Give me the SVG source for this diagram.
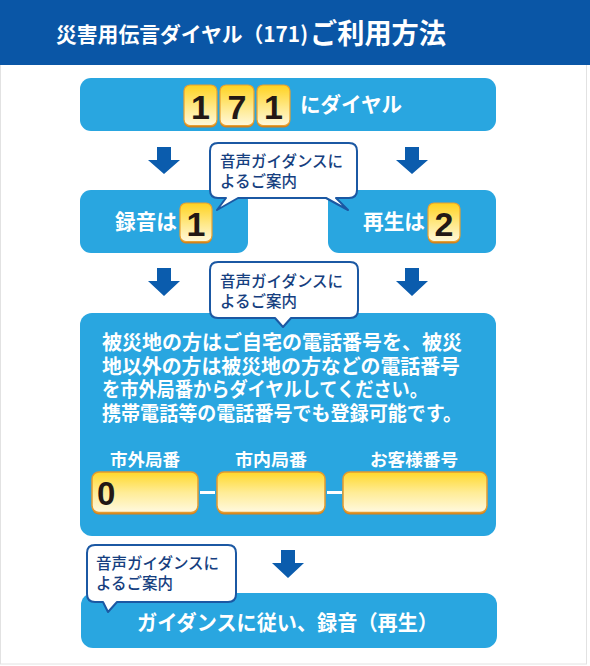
<svg xmlns="http://www.w3.org/2000/svg" width="590" height="666" viewBox="0 0 590 666">
<defs>
<linearGradient id="key" x1="0" y1="0" x2="0" y2="1">
<stop offset="0" stop-color="#FFD21F"/>
<stop offset="0.55" stop-color="#FFE98A"/>
<stop offset="1" stop-color="#FFF8DC"/>
</linearGradient>
<linearGradient id="inp" x1="0" y1="0" x2="0" y2="1">
<stop offset="0" stop-color="#FFD82A"/>
<stop offset="0.5" stop-color="#FFEC95"/>
<stop offset="1" stop-color="#FFF9E0"/>
</linearGradient>
</defs>
<style>
.box{fill:#29A6E0;}
.arrow{fill:#0B5CAD;}
.sh{fill:#D4821C;}
.key{fill:url(#key);stroke:#E8A030;stroke-width:1.2;}
.inp{fill:url(#inp);stroke:#E39A2E;stroke-width:1.5;}
.bub{fill:#FFFFFF;stroke:#1B58A3;stroke-width:2;stroke-linejoin:round;}
.t{font-family:"Noto Sans CJK JP","Noto Sans",sans-serif;}
.w{fill:#FFFFFF;font-weight:700;}
.k{fill:#231815;font-weight:700;font-family:"Liberation Sans","Noto Sans",sans-serif;}
.bt{fill:#163F80;font-size:15.5px;font-weight:500;}
</style>
<rect x="0" y="0" width="590" height="666" fill="#FFFFFF"/>
<rect x="0.5" y="60" width="586" height="604" fill="none" stroke="#E2E2E2" stroke-width="1"/>
<g id="header">
<rect x="0" y="0" width="590" height="65" fill="#0A56A6"/>
<text class="t w" x="56" y="42" font-size="21" textLength="252" lengthAdjust="spacingAndGlyphs">災害用伝言ダイヤル（171)</text>
<text class="t w" x="310" y="44" font-size="28" textLength="136" lengthAdjust="spacingAndGlyphs">ご利用方法</text>
</g>
<g id="connectors">
<polygon class="arrow" points="157,147 171,147 171,160 180,160 164,174 148,160 157,160"/>
<polygon class="arrow" points="405,147 419,147 419,160 428,160 412,174 396,160 405,160"/>
<polygon class="arrow" points="157,268 171,268 171,281 180,281 164,296 148,281 157,281"/>
<polygon class="arrow" points="405,268 419,268 419,281 428,281 412,296 396,281 405,281"/>
<polygon class="arrow" points="281,550 295,550 295,563 304,563 288,578 272,563 281,563"/>
</g>
<g id="step1">
<rect class="box" x="80" y="78" width="416" height="53" rx="11"/>
<rect class="sh" x="184" y="86.5" width="33" height="41" rx="6"/>
<rect class="sh" x="220" y="86.5" width="34" height="41" rx="6"/>
<rect class="sh" x="257" y="86.5" width="33" height="41" rx="6"/>
<rect class="key" x="184" y="85" width="33" height="40.5" rx="6"/>
<rect class="key" x="220" y="85" width="34" height="40.5" rx="6"/>
<rect class="key" x="257" y="85" width="33" height="40.5" rx="6"/>
<text class="k" x="200.5" y="118.5" font-size="34" text-anchor="middle">1</text>
<text class="k" x="237" y="118.5" font-size="34" text-anchor="middle">7</text>
<text class="k" x="273.5" y="118.5" font-size="34" text-anchor="middle">1</text>
<text class="t w" x="300" y="112" font-size="21" font-weight="500" textLength="102" lengthAdjust="spacingAndGlyphs">にダイヤル</text>
</g>
<g id="record">
<rect class="box" x="80" y="190" width="168" height="63" rx="11"/>
<text class="t w" x="115" y="229" font-size="21" textLength="62" lengthAdjust="spacingAndGlyphs">録音は</text>
<rect class="sh" x="180" y="204.5" width="32" height="39" rx="6"/>
<rect class="key" x="180" y="203" width="32" height="38.5" rx="6"/>
<text class="k" x="196" y="235.5" font-size="34" text-anchor="middle">1</text>
</g>
<g id="play">
<rect class="box" x="328" y="190" width="168" height="63" rx="11"/>
<text class="t w" x="363" y="229" font-size="21" textLength="62" lengthAdjust="spacingAndGlyphs">再生は</text>
<rect class="sh" x="428" y="204.5" width="32" height="39" rx="6"/>
<rect class="key" x="428" y="203" width="32" height="38.5" rx="6"/>
<text class="k" x="444" y="235.5" font-size="34" text-anchor="middle">2</text>
</g>
<g id="callout1">
<path class="bub" d="M218,143 H349 Q357,143 357,151 V190 Q357,198 349,198 H336 L348,210 L326,198 H238 L217,210 L226,198 H218 Q210,198 210,190 V151 Q210,143 218,143 Z"/>
<text class="t bt" x="220" y="167">音声ガイダンスに</text>
<text class="t bt" x="220" y="187">よるご案内</text>
</g>
<g id="step3">
<rect class="box" x="80" y="313" width="416" height="223" rx="12"/>
<text class="t w" x="102" y="350" font-size="20" textLength="360" lengthAdjust="spacingAndGlyphs">被災地の方はご自宅の電話番号を、被災</text>
<text class="t w" x="102" y="374" font-size="20" textLength="358" lengthAdjust="spacingAndGlyphs">地以外の方は被災地の方などの電話番号</text>
<text class="t w" x="102" y="397" font-size="20" textLength="326" lengthAdjust="spacingAndGlyphs">を市外局番からダイヤルしてください。</text>
<text class="t w" x="102" y="421" font-size="20" textLength="360" lengthAdjust="spacingAndGlyphs">携帯電話等の電話番号でも登録可能です。</text>
<text class="t w" x="110" y="466" font-size="17" textLength="70" lengthAdjust="spacingAndGlyphs">市外局番</text>
<text class="t w" x="235" y="466" font-size="17" textLength="72" lengthAdjust="spacingAndGlyphs">市内局番</text>
<text class="t w" x="370" y="466" font-size="17" textLength="88" lengthAdjust="spacingAndGlyphs">お客様番号</text>
<rect class="sh" x="92" y="473.5" width="106" height="41" rx="7"/>
<rect class="sh" x="217" y="473.5" width="108" height="41" rx="7"/>
<rect class="sh" x="343" y="473.5" width="144" height="41" rx="7"/>
<rect class="inp" x="92" y="472" width="106" height="40.5" rx="7"/>
<rect class="inp" x="217" y="472" width="108" height="40.5" rx="7"/>
<rect class="inp" x="343" y="472" width="144" height="40.5" rx="7"/>
<rect x="200" y="491" width="15" height="3" fill="#FFFFFF"/>
<rect x="327" y="491" width="15" height="3" fill="#FFFFFF"/>
<text class="k" x="97" y="505" font-size="33">0</text>
</g>
<g id="callout2">
<path class="bub" d="M218,262 H350 Q358,262 358,270 V310 Q358,318 350,318 H291 L283,327 L275,318 H218 Q210,318 210,310 V270 Q210,262 218,262 Z"/>
<text class="t bt" x="220" y="287">音声ガイダンスに</text>
<text class="t bt" x="220" y="307">よるご案内</text>
</g>
<g id="step4">
<rect class="box" x="81" y="593" width="416" height="55" rx="12"/>
<text class="t w" x="137" y="630" font-size="21" font-weight="500" textLength="301" lengthAdjust="spacingAndGlyphs">ガイダンスに従い、録音（再生）</text>
</g>
<g id="callout4">
<path class="bub" d="M95,545 H228 Q236,545 236,553 V594 Q236,602 228,602 H117 L108,612 L103,602 H95 Q87,602 87,594 V553 Q87,545 95,545 Z"/>
<text class="t bt" x="96" y="569">音声ガイダンスに</text>
<text class="t bt" x="96" y="589">よるご案内</text>
</g>
</svg>
